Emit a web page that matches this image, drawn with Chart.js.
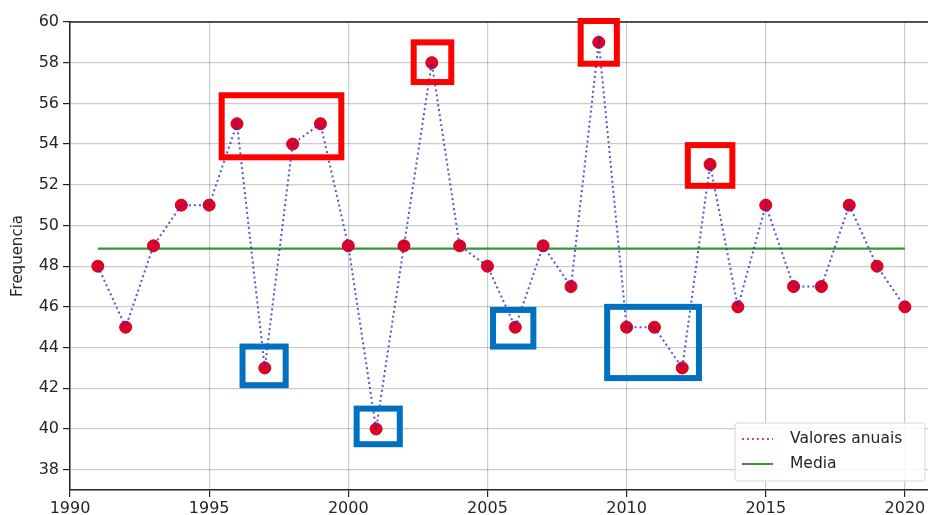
<!DOCTYPE html>
<html>
<head>
<meta charset="utf-8">
<script src="https://cdn.jsdelivr.net/npm/chart.js@4"></script>
<style>
    html, body { margin: 0; padding: 0; background: #ffffff; }
    #wrap { width: 928px; height: 515px; }
</style>
</head>
<body>
<div id="wrap"><canvas id="chart" width="928" height="515"></canvas></div>
<script>
const years = [1991, 1992, 1993, 1994, 1995, 1996, 1997, 1998, 1999, 2000,
    2001, 2002, 2003, 2004, 2005, 2006, 2007, 2008, 2009, 2010,
    2011, 2012, 2013, 2014, 2015, 2016, 2017, 2018, 2019, 2020];
const valores = [48, 45, 49, 51, 51, 55, 43, 54, 55, 49,
    40, 49, 58, 49, 48, 45, 49, 47, 59, 45,
    45, 43, 53, 46, 51, 47, 47, 51, 48, 46];
const xTicks = [1990, 1995, 2000, 2005, 2010, 2015, 2020];
const yTicks = [38, 40, 42, 44, 46, 48, 50, 52, 54, 56, 58, 60];
const legendLabels = ['Valores anuais', 'Media'];

// highlight boxes in data units: [x0, x1, y0, y1]
const redBoxes = [
    [1995.45, 1999.75, 53.35, 56.4],
    [2002.35, 2003.7, 57.05, 59.0],
    [2008.35, 2009.65, 57.95, 60.05],
    [2012.2, 2013.8, 51.95, 53.95]
];
const blueBoxes = [
    [1996.2, 1997.75, 42.15, 44.05],
    [2000.3, 2001.85, 39.25, 41.0],
    [2005.2, 2006.65, 44.05, 45.85],
    [2009.3, 2012.6, 42.5, 46.0]
];

const media = valores.reduce((a, b) => a + b, 0) / valores.length;
const font = "'DejaVu Sans', sans-serif";

const extras = {
    id: 'extras',
    afterDatasetsDraw(chart) {
        const ctx = chart.ctx;
        const xs = chart.scales.x;
        const ys = chart.scales.y;
        const area = chart.chartArea;
        ctx.save();
        // top spine
        ctx.strokeStyle = '#222';
        ctx.lineWidth = 1.5;
        ctx.beginPath();
        ctx.moveTo(area.left, area.top);
        ctx.lineTo(area.right, area.top);
        ctx.stroke();

        function drawBoxes(list, color) {
            ctx.strokeStyle = color;
            ctx.lineWidth = 6;
            list.forEach(b => {
                const x0 = xs.getPixelForValue(b[0]);
                const x1 = xs.getPixelForValue(b[1]);
                const y0 = ys.getPixelForValue(b[3]);
                const y1 = ys.getPixelForValue(b[2]);
                ctx.strokeRect(x0, y0, x1 - x0, y1 - y0);
            });
        }
        drawBoxes(redBoxes, '#ff0000');
        drawBoxes(blueBoxes, '#0070c0');

        // legend, lower right
        const lw = 190, lh = 58;
        const lx = area.right - lw - 3;
        const ly = area.bottom - lh - 9;
        ctx.fillStyle = 'rgba(255,255,255,0.85)';
        ctx.strokeStyle = '#d6d6d6';
        ctx.lineWidth = 1;
        ctx.beginPath();
        ctx.roundRect(lx, ly, lw, lh, 3);
        ctx.fill();
        ctx.stroke();

        ctx.lineWidth = 2;
        ctx.strokeStyle = '#e8435a';
        ctx.setLineDash([2, 3]);
        ctx.beginPath();
        ctx.moveTo(lx + 7, ly + 16);
        ctx.lineTo(lx + 38, ly + 16);
        ctx.stroke();
        ctx.setLineDash([]);
        ctx.strokeStyle = '#3a923a';
        ctx.beginPath();
        ctx.moveTo(lx + 7, ly + 41);
        ctx.lineTo(lx + 38, ly + 41);
        ctx.stroke();

        ctx.fillStyle = '#262626';
        ctx.font = '15.5px ' + font;
        ctx.textBaseline = 'middle';
        ctx.textAlign = 'left';
        ctx.fillText(legendLabels[0], lx + 55, ly + 16);
        ctx.fillText(legendLabels[1], lx + 55, ly + 41);
        ctx.restore();
    }
};

new Chart(document.getElementById('chart').getContext('2d'), {
    type: 'line',
    data: {
        datasets: [
            {
                label: legendLabels[0],
                data: years.map((y, i) => ({ x: y, y: valores[i] })),
                borderColor: 'rgba(40, 40, 210, 0.8)',
                borderWidth: 2,
                borderDash: [2, 3],
                pointRadius: 0,
                fill: false,
                tension: 0,
                order: 0
            },
            {
                label: 'pontos',
                data: years.map((y, i) => ({ x: y, y: valores[i] })),
                showLine: false,
                pointRadius: 6,
                pointBackgroundColor: '#e5001f',
                pointBorderColor: '#c4002a',
                pointBorderWidth: 1,
                order: 1
            },
            {
                label: legendLabels[1],
                data: [{ x: years[0], y: media }, { x: years[years.length - 1], y: media }],
                borderColor: '#3a923a',
                borderWidth: 2.2,
                pointRadius: 0,
                fill: false,
                order: 2
            }
        ]
    },
    options: {
        responsive: false,
        animation: false,
        layout: { autoPadding: false, padding: { left: 0, top: 22, right: 0, bottom: 0 } },
        plugins: { legend: { display: false }, tooltip: { enabled: false } },
        scales: {
            x: {
                type: 'linear',
                min: 1990,
                max: 2020.83,
                afterBuildTicks: s => { s.ticks = xTicks.map(v => ({ value: v })); },
                afterFit: s => { s.height = 25; s.paddingRight = 0; s.paddingLeft = 0; },
                grid: { color: 'rgba(0,0,0,0.2)', lineWidth: 1.2, tickLength: 7, tickColor: '#222', drawTicks: true },
                border: { display: true, color: '#222', width: 1.5 },
                ticks: {
                    color: '#262626', font: { family: font, size: 16 }, padding: 2, maxRotation: 0,
                    callback: v => String(v)
                }
            },
            y: {
                min: 37,
                max: 60,
                afterBuildTicks: s => { s.ticks = yTicks.map(v => ({ value: v })); },
                afterFit: s => { s.width = 70; },
                grid: { color: 'rgba(0,0,0,0.2)', lineWidth: 1.2, tickLength: 7, tickColor: '#222' },
                border: { display: true, color: '#222', width: 1.5 },
                ticks: { color: '#262626', font: { family: font, size: 16 }, padding: 4 },
                title: {
                    display: true,
                    text: 'Frequencia',
                    color: '#262626',
                    font: { family: font, size: 15 },
                    padding: { top: 9, bottom: 0 }
                }
            }
        }
    },
    plugins: [extras]
});
</script>
</body>
</html>
